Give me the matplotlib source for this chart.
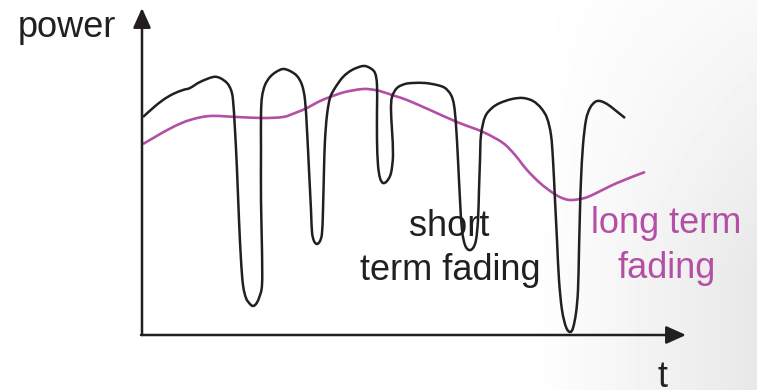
import numpy as np
from matplotlib import pyplot as plt
from matplotlib.path import Path
from matplotlib.patches import PathPatch

# short term fading trace (t, power)
t_short = [1, 11, 21, 31, 41, 48, 58, 71, 78, 85, 89, 91, 93, 95, 97, 99, 101, 104, 108, 111,
           114, 117, 120, 120, 119, 119, 119, 120, 123, 128, 134, 141, 148, 155, 160, 163, 165,
           167, 169, 170, 172, 175, 178, 180, 181, 182, 183, 185, 188, 193, 201, 210, 221, 228,
           233, 235, 235, 235, 236, 238, 241, 245, 249, 251, 250, 249, 250, 255, 263, 271, 283,
           295, 303, 309, 312, 314, 316, 318, 320, 323, 327, 331, 334, 336, 337, 338, 339, 343,
           350, 358, 370, 381, 391, 399, 405, 409, 411, 413, 415, 417, 420, 424, 428, 431, 434,
           436, 437, 438, 439, 441, 444, 448, 453, 458, 465, 473, 483]
p_short = [218, 227, 235, 241, 245, 247, 253, 258, 257, 252, 245, 235, 205, 165, 115, 75, 50, 37,
           31, 29, 31, 37, 50, 85, 135, 185, 220, 238, 250, 258, 263, 266, 264, 259, 250, 235,
           205, 165, 125, 103, 94, 91, 94, 102, 125, 165, 195, 220, 237, 247, 258, 265, 269, 267,
           262, 250, 225, 195, 170, 157, 152, 154, 162, 180, 205, 225, 238, 247, 251, 252, 252,
           250, 247, 240, 230, 210, 175, 135, 105, 90, 85, 87, 95, 115, 145, 175, 200, 218, 227,
           232, 236, 237, 234, 227, 217, 200, 175, 135, 95, 55, 25, 8, 3, 7, 22, 45, 85, 125,
           155, 190, 215, 227, 233, 234, 231, 225, 217]

# long term fading trace
t_long = [1, 13, 31, 48, 68, 95, 121, 141, 153, 165, 176, 188, 203, 221, 233, 241, 253, 265, 288,
          315, 341, 361, 373, 385, 398, 411, 420, 428, 438, 448, 475, 503]
p_long = [191, 198, 208, 215, 219, 218, 217, 218, 222, 227, 233, 238, 243, 246, 245, 243, 239,
          235, 225, 213, 203, 192, 180, 165, 152, 142, 137, 135, 136, 139, 152, 163]

ink = '#231f20'
magenta = '#b44fa6'
plt.rcParams['font.family'] = ['Liberation Sans', 'DejaVu Sans']


def smooth_path(xs, ys):
    # hand-drawn look: pass a Catmull-Rom style bezier through the traced points
    pts = np.column_stack([xs, ys]).astype(float)
    ext = np.vstack([pts[0], pts, pts[-1]])
    verts = [pts[0]]
    codes = [Path.MOVETO]
    for i in range(1, len(ext) - 2):
        c1 = ext[i] + (ext[i + 1] - ext[i - 1]) / 6
        c2 = ext[i + 1] - (ext[i + 2] - ext[i]) / 6
        verts += [c1, c2, ext[i + 1]]
        codes += [Path.CURVE4] * 3
    return Path(verts, codes)


fig = plt.figure(figsize=(7.57, 3.90), dpi=100)

# faint grey wash towards the lower right, like the slide background
bg = fig.add_axes([0, 0, 1, 1], zorder=-1)
gx, gy = np.meshgrid(np.linspace(0, 1, 200), np.linspace(0, 1, 100))
wash = np.clip((gx - 0.7) / 0.3, 0, 1) * np.clip(0.3 + gy, 0, 1)
bg.imshow(1 - 0.09 * wash, cmap='gray', vmin=0, vmax=1, aspect='auto',
          extent=[0, 1, 0, 1], origin='upper')
bg.axis('off')

ax = fig.add_axes([0, 0, 1, 1])
ax.patch.set_alpha(0)
ax.set_xlim(-142, 615)
ax.set_ylim(-55, 335)
ax.axis('off')

ax.add_patch(PathPatch(smooth_path(t_long, p_long), fill=False, edgecolor=magenta,
                       lw=1.9, capstyle='butt', joinstyle='round'))
ax.add_patch(PathPatch(smooth_path(t_short, p_short), fill=False, edgecolor=ink,
                       lw=1.8, capstyle='butt', joinstyle='round'))

# axes arrows
arrow = dict(arrowstyle='-|>,head_length=0.6,head_width=0.27', mutation_scale=20,
             lw=1.8, color=ink, shrinkA=0, shrinkB=0)
ax.annotate('', xy=(0, 327), xytext=(0, 0), arrowprops=arrow)
ax.annotate('', xy=(544, 0), xytext=(-1, 0), arrowprops=arrow)

fs = 26
ax.text(-124, 298, 'power', fontsize=fs, color=ink, ha='left', va='baseline')
ax.text(521, -52, 't', fontsize=fs, color=ink, ha='center', va='baseline')
ax.text(307, 99, 'short', fontsize=fs, color=ink, ha='center', va='baseline')
ax.text(308, 55, 'term fading', fontsize=fs, color=ink, ha='center', va='baseline')
ax.text(524, 102, 'long term', fontsize=fs, color=magenta, ha='center', va='baseline')
ax.text(525, 57, 'fading', fontsize=fs, color=magenta, ha='center', va='baseline')

fig.savefig('out.png', dpi=100)
